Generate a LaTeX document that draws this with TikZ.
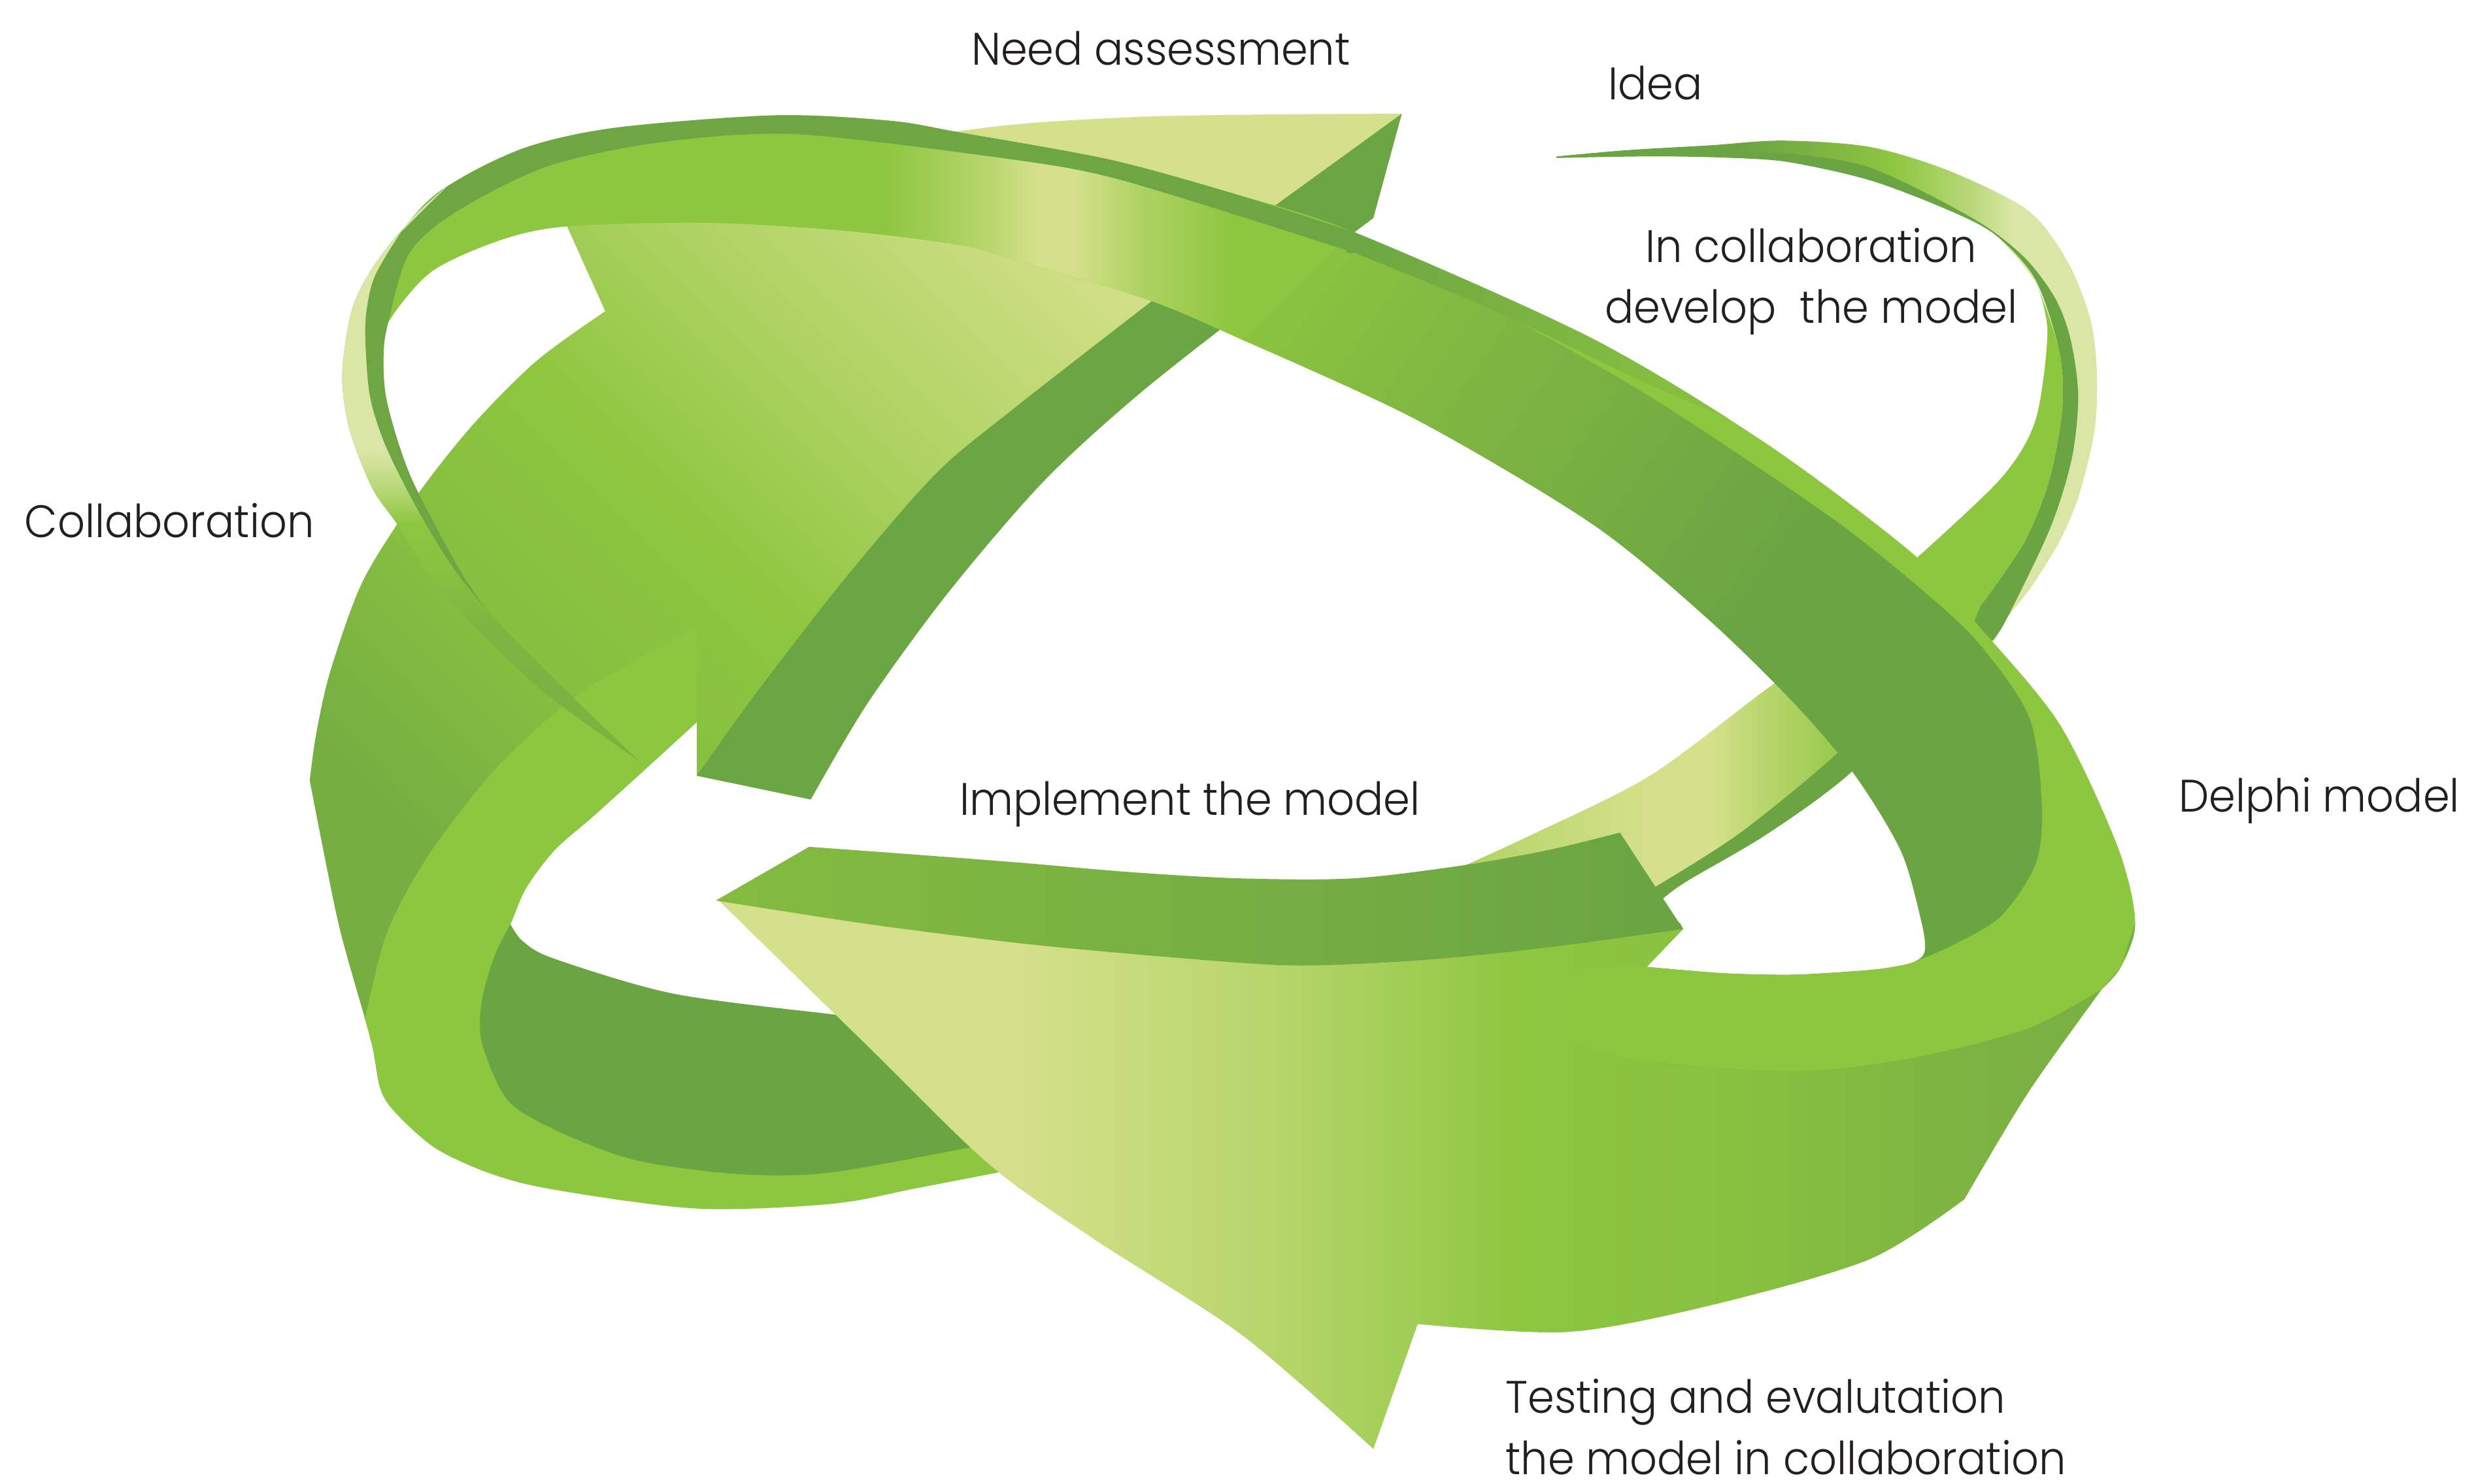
\documentclass[tikz,border=0pt]{standalone}
\usepackage{fontspec}
\newfontfamily\labelfont{Poppins}[UprightFont=* Light, FakeStretch=0.94]
\usepackage{tikz}
\definecolor{leafdark}{HTML}{6AA443}
\definecolor{leafdeep}{HTML}{76AE42}
\definecolor{leafmid}{HTML}{7CB342}
\definecolor{leafbright}{HTML}{8DC63F}
\definecolor{leaflight}{HTML}{D4E08A}
\definecolor{leafpale}{HTML}{DAE6A6}
\definecolor{textgray}{HTML}{231F20}
% -------------------------------------------------
% Shadings of the ribbon faces
\pgfdeclarehorizontalshading{needface}{100bp}{color(0bp)=(leafdeep); color(30bp)=(leafdeep); color(39bp)=(leafmid!40!leafbright); color(48bp)=(leafbright); color(58bp)=(leafbright!50!leaflight); color(70bp)=(leaflight); color(100bp)=(leaflight)}
\pgfdeclarehorizontalshading{headface}{100bp}{color(0bp)=(leaflight); color(36bp)=(leaflight); color(44.6bp)=(leaflight!60!leafbright); color(50bp)=(leaflight!25!leafbright); color(53.3bp)=(leafbright); color(61bp)=(leafbright!70!leafmid); color(69bp)=(leafmid); color(75bp)=(leafdeep); color(100bp)=(leafdeep)}
\pgfdeclarehorizontalshading{archigh}{100bp}{color(0bp)=(leafbright); color(29bp)=(leafbright); color(41bp)=(leaflight!55!leafbright); color(48bp)=(leaflight); color(53bp)=(leaflight); color(61bp)=(leaflight!50!leafbright); color(73bp)=(leafbright); color(100bp)=(leafbright)}
\pgfdeclarehorizontalshading{diagface}{100bp}{color(0bp)=(leafbright); color(22bp)=(leafbright); color(38bp)=(leafmid); color(55bp)=(leafdark); color(100bp)=(leafdark)}
\pgfdeclareverticalshading{stripface}{100bp}{color(0bp)=(leafdeep); color(36bp)=(leafmid); color(41.7bp)=(leafbright!75!leafmid); color(45.4bp)=(leafbright); color(48.5bp)=(leafpale!55!leafbright); color(51.5bp)=(leafpale); color(100bp)=(leafpale)}
\pgfdeclarehorizontalshading{ideaface}{100bp}{color(0bp)=(leafdark); color(42bp)=(leafdark); color(49bp)=(leafmid); color(56bp)=(leafbright); color(63bp)=(leafbright!45!leafpale); color(67bp)=(leafpale); color(100bp)=(leafpale)}
\pgfdeclarehorizontalshading{ideastrip}{100bp}{color(0bp)=(leafbright!55!leaflight); color(28bp)=(leafbright!55!leaflight); color(35bp)=(leafbright!30!leaflight); color(46bp)=(leaflight); color(52bp)=(leaflight); color(57bp)=(leafbright!40!leaflight); color(63bp)=(leafbright!80!leaflight); color(69bp)=(leafbright); color(100bp)=(leafbright)}
\colorlet{rimcolor}{leafdark!85!leafmid}
\tikzset{
  phase/.style={font={\labelfont\fontsize{8.2}{11.05}\selectfont}, text=textgray, inner sep=0pt},
  sideface/.style={fill=leafdark},
  edgeface/.style={fill=leafbright},
}
\begin{document}
\begin{tikzpicture}[x=0.1mm, y=-0.1mm]
% -------------------------------------------------
% Frame of the picture
\useasboundingbox (0,0) rectangle (1568,939.3);
\fill[white] (0,0) rectangle (1568,939.3);

% -------------------------------------------------
% Outlines of the ribbon parts
\def\ideaup{plot[smooth] coordinates {(985,99) (1030,95) (1082,92) (1128,89) (1183,93) (1233,108) (1283,133) (1308,165) (1323,203) (1327,240) (1325,275) (1315,315) (1303,343) (1285,372) (1270,391) (1262,405)} -- (1240,420) -- (1190,410) -- plot[smooth] coordinates {(1212,354) (1266,303) (1288,266) (1295.6,210.5) (1290,182) (1263,149) (1233,133) (1183,114) (1128,102) (1057,99) (985,100)} -- cycle}
\def\ideastripe{plot[smooth] coordinates {(1085,99.5) (1128,102) (1183,114) (1233,133) (1263,149) (1288,177) (1303,222) (1305,258) (1297,303) (1281,343) (1253,384)} -- (1240,415) -- plot[smooth] coordinates {(1258,408) (1268,395) (1297,335) (1311,290) (1315,250) (1310,214) (1300,188) (1280,162) (1248,138) (1183,106) (1128,97) (1085,97)} -- cycle}
\def\ideaface{plot[smooth] coordinates {(1289,180) (1303,222) (1305,258) (1297,303) (1281,343) (1253,384)} -- (1240,415) -- (1190,410) -- plot[smooth] coordinates {(1212,354) (1266,303) (1288,266) (1295.6,210.5) (1289,180)} -- cycle}
\def\idealow{(1240,420) -- plot[smooth] coordinates {(1230,430) (1170,490) (1118,528) (1067,558) (1052,569)} -- (1040,585) -- (900,565) -- plot[smooth] coordinates {(922,550) (970,528) (1044,491) (1118,436) (1155,410)} -- (1190,410) -- cycle}
\def\idealowdark{(1215,425) -- plot[smooth] coordinates {(1230,430) (1170,490) (1118,528) (1067,558) (1052,569)} -- (1040,585) -- (1035,575) -- plot[smooth] coordinates {(1048,561) (1100,528) (1159,480) (1215,425)} -- cycle}

\def\needarrow{plot[smooth] coordinates {(358.8,143.3) (460,108) (560,90) (640,79) (720,74) (800,72.5) (887,72)} -- (869,138) -- (857,147) -- plot[smooth] coordinates {(857,147) (790,195) (720,250) (660,305) (600,375) (549,445) (513,506)} -- (441,491) -- (441,457) -- plot[smooth] coordinates {(441,457) (406,489) (375,517) (351,538) (333,562) (323,585) (331,596) (351,607) (426,629) (526,642) (600,650) (680,655)} -- (680,735) -- plot[smooth] coordinates {(637,741) (580,752) (526,762) (441,765) (351,753) (311,743) (276,727) (251,705) (241,690) (236,664) (231,645) (215,588) (203,530) (196,494)} -- plot[smooth] coordinates {(196,494) (200,465) (209,425) (230,367) (265,312) (300,268) (340,228) (383,197)} -- cycle}
\def\neededge{plot[smooth] coordinates {(231,645) (245,590) (272,540) (317,483) (370,437) (441,397)} -- (441,457) -- plot[smooth] coordinates {(441,457) (406,489) (375,517) (351,538) (333,562) (323,585) (313,605) (305,633) (305,660) (321,696) (351,715) (401,734) (466,743) (526,742) (626,724) (680,715)} -- (680,735) -- plot[smooth] coordinates {(637,741) (580,752) (526,762) (441,765) (351,753) (311,743) (276,727) (251,705) (241,690) (236,664) (231,645)} -- cycle}
\def\needinner{plot[smooth] coordinates {(323,585) (331,596) (351,607) (426,629) (526,642) (600,650) (680,655)} -- (680,715) -- plot[smooth] coordinates {(680,715) (626,724) (526,742) (466,743) (401,734) (351,715) (321,696) (305,660) (305,633) (313,605) (323,585)} -- cycle}
\def\needside{plot[smooth] coordinates {(441,491) (476,442) (534,367) (592,300) (641,259) (727,192) (807,130)} -- (887,72) -- (869,138) -- (857,147) -- plot[smooth] coordinates {(857,147) (790,195) (720,250) (660,305) (600,375) (549,445) (513,506)} -- cycle}

\def\delphiarrow{plot[smooth] coordinates {(403.8,481.3) (345.7,439.3) (302.2,398.6) (273.2,366.7) (251.4,331.9) (235.4,308.7) (220.9,271) (216.6,236) (223.8,192.6) (244.1,157.8) (281.9,119) (331.2,93.9) (389.2,80.9) (490.8,73) (563.4,76.5) (607,83.8) (702,101) (782,123) (857,147) (1007,214) (1118,281) (1211,351) (1251,395) (1303,458) (1340,536) (1351,584) (1342,612) (1330,626)} -- plot[smooth] coordinates {(1330,626) (1283,692) (1243,759)} -- plot[smooth] coordinates {(1243,759) (1183,797) (1083,826) (992,843) (897,838)} -- (869,917) -- plot[smooth] coordinates {(869,917) (786,845) (692,784) (626,737) (551,664) (454,569)} -- plot[smooth] coordinates {(454,569) (550,582) (645,593) (730,601) (814,607) (880,605) (941,600) (1000,593) (1063,584)} -- (1065,588) -- (1042,612) -- plot[smooth] coordinates {(1042,612) (1090,616) (1133,617) (1170,615) (1192,613) (1211,609) (1218,602) (1216,584) (1203,539) (1174,491) (1137,447) (1081,392) (1008,332) (897,266) (786,215) (727,190) (641,164) (607,155) (534,146) (447,141) (358.8,143.3) (316.7,152) (273,172) (245.6,204.2) (242.7,224.5) (244.1,250.6) (252.8,282.6) (264.5,311.6) (296.4,369.6) (331.2,413.1) (403.8,481.3)} -- cycle}
\def\delphistrip{plot[smooth] coordinates {(403.8,481.3) (345.7,439.3) (302.2,398.6) (273.2,366.7) (251.4,331.9) (235.4,308.7) (220.9,271) (216.6,236) (223.8,192.6) (244.1,157.8) (281.9,119)} -- plot[smooth] coordinates {(281.9,118.6) (258.7,140.4) (238.3,172.3) (232.5,192.6) (231.1,212.9) (234,250.6) (244.1,282.6) (264.5,323.2) (287.7,360.9) (316.7,395.7) (360.2,439.3) (403.8,481.3)} -- cycle}
\def\delphirim{plot[smooth] coordinates {(403.8,481.3) (360.2,439.3) (316.7,395.7) (287.7,360.9) (264.5,323.2) (244.1,282.6) (234,250.6) (231.1,212.9) (232.5,192.6) (238.3,172.3) (258.7,140.4) (281.9,118.6) (331.2,93.9) (389.2,80.9) (490.8,73) (563.4,76.5) (607,83.8) (702,101) (782,123) (857,147)} -- (857,160) -- plot[smooth] coordinates {(857,160) (782,136) (702,112) (641,101) (505,85) (418,90) (345.7,105.5) (287.7,134.6) (258.7,160.7) (245.6,204.2) (242.7,224.5) (244.1,250.6) (252.8,282.6) (264.5,311.6) (296.4,369.6) (331.2,413.1) (403.8,481.3)} -- cycle}
\def\delphirimend{plot[smooth] coordinates {(852,142) (949,183) (1034,224) (1122,277)} -- plot[smooth] coordinates {(1122,277) (1034,239) (949,198) (857,160)} -- (852,160) -- cycle}
\def\delphiside{plot[smooth] coordinates {(786,215) (897,266) (1008,332) (1081,392) (1137,447) (1174,491) (1203,539) (1216,584) (1218,602) (1211,609)} -- plot[smooth] coordinates {(1211,609) (1236,598) (1266,580) (1288,547) (1292,510) (1284,454) (1251,406) (1211,369) (1155,325) (1044,251) (933,188) (857,147)} -- cycle}
\def\delphiedge{plot[smooth] coordinates {(985,655) (1032,670) (1133,678) (1208,670) (1283,651) (1330,626)} -- (1342,612) -- (1351,584) -- (1355,555) -- (1280,560) -- (1250,585) -- (1211,609) -- plot[smooth] coordinates {(1211,609) (1192,613) (1170,615) (1133,617) (1090,616) (1042,612)} -- (1000,612) -- cycle}

\def\implementarrow{(453,570) -- plot[smooth] coordinates {(512,536) (580,541) (645,546) (715,552) (785,556) (856,556) (924,548) (980,538) (1025,527)} -- (1065,588) -- plot[smooth] coordinates {(1065,588) (1000,597) (941,604) (880,609) (814,611) (730,605) (645,597) (550,585) (453,570)} -- cycle}

% -------------------------------------------------
% Idea ribbon, lies behind the others
\begin{scope}
  \clip \ideaup;
  \shade[shading=ideaface] (980,80) rectangle (1330,440);
\end{scope}
\fill[sideface] \ideastripe;
\fill[edgeface] \ideaface;
\begin{scope}
  \clip \idealow;
  \shade[shading=ideastrip] (900,400) rectangle (1240,600);
\end{scope}
\fill[sideface] \idealowdark;

% -------------------------------------------------
% Need assessment arrow
\begin{scope}
  \clip \needarrow;
  \shade[shading=needface, shading angle=45] (180,40) rectangle (900,760);
\end{scope}
\fill[edgeface] \neededge;
\fill[sideface] \needinner;
\fill[leafdark!90!leafmid] \needside;

% -------------------------------------------------
% Big arrow: top arc, Delphi side and testing head
\fill[edgeface] \delphiarrow;
\begin{scope}
  \clip \delphiarrow;
  \shade[shading=archigh] (540,60) rectangle (790,230);
  \shade[shading=headface] (440,560) rectangle (1360,930);
  \fill[edgeface] \delphiedge;
  \begin{scope}
    \clip \delphiside;
    \shade[shading=diagface, shading angle=-35] (750,80) rectangle (1350,680);
  \end{scope}
  % rim fades out along the top of the Delphi side
  \shade[left color=rimcolor, middle color=leafdeep, right color=leafbright] \delphirimend;
\end{scope}
\fill[rimcolor] \delphirim;
\begin{scope}
  \clip \delphistrip;
  \shade[shading=stripface] (200,110) rectangle (420,485);
\end{scope}

% -------------------------------------------------
% Implement arrow
\shade[left color=leafmid!55!leafbright, right color=leafdark] \implementarrow;

% -------------------------------------------------
% labels
\node[phase, anchor=base west] (need) at (614,41) {Need assessment};
\node[phase, anchor=base west] (idea) at (1017,63) {Idea};
\node[phase, align=center, anchor=north] (develop) at (1146,143.5) {In collaboration\\develop\ \ the model};
\node[phase, anchor=base west] (collab) at (15,340) {Collaboration};
\node[phase, anchor=base west] (implement) at (606.5,516) {Implement the model};
\node[phase, anchor=base west] (delphi) at (1378,514) {Delphi model};
\node[phase, align=left, anchor=north west] (testing) at (952,872) {Testing and evalutation\\the model in collaboration};
\end{tikzpicture}
\end{document}
